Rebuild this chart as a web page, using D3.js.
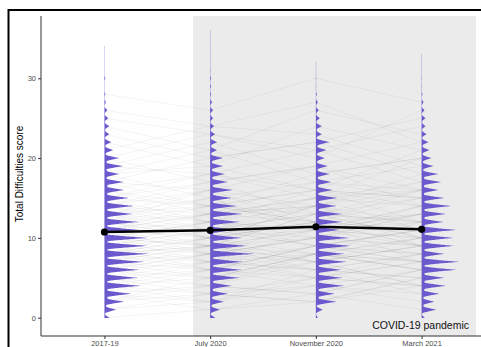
<!DOCTYPE html>
<html lang="en">
	<head>
		<meta charset="utf-8">
		<title>SDQ total difficulties</title>
		<script type="text/javascript" src="https://d3js.org/d3.v7.min.js"></script>
		<style>
			body { margin:0; background:#fff; }
			svg text { font-family:"Liberation Sans", Arial, sans-serif; }
		</style>
	</head>
	<body>
		<svg id="chart"></svg>
		<script>

			// time points and labels
			var timepoints = ["2017-19","July 2020","November 2020","March 2021"];
			var yTicks = [0,10,20,30];

			// mean Total Difficulties score at each wave
			var meanScores = [10.74,10.95,11.4,11.08];

			// number of children at each score (index = score), per wave
			var dist1719 = [5,12,20,27,37,34,35,40,45,44,44,35,35,29,30,25,20,20,15,19,15,9,7,5,5,4,3,1.5,1,0.3,1,0.3,0.3,0.3,0.3];
			var distJul20 = [5,10,14,18,22,30,32,33,45,38,32,27,30,33,27,22,23,18,15,13,13,7,7,5,4,3,3,2,1,1,1,0.5,0.3,0.3,0.3,0.3,0.3];
			var distNov20 = [2,7,21,19,29,27,26,31,29,36,34,24,27,27,21,22,17,16,14,12,9,11,14,6,6,4,3,2,1,0.5,0.5,0.3,0.3];
			var distMar21 = [3,15,13,18,25,23,35,38,23,33,32,35,22,25,30,23,17,20,17,12,10,8,7,5,4,4,3,2,1,0.5,0.5,0.3,0.3,0.3];
			var dists = [dist1719,distJul20,distNov20,distMar21];

			// individual trajectories (score at each wave)
			var trajectories = [
				[4,6,5,7],[12,10,14,11],[8,9,7,10],[15,18,16,14],[2,3,5,4],[10,12,11,13],[20,17,19,22],[6,5,8,6],
				[11,13,12,9],[9,8,10,12],[14,11,15,17],[3,6,4,2],[17,20,22,18],[7,9,6,8],[13,12,16,15],[5,4,3,6],
				[10,7,9,11],[22,19,24,21],[12,14,13,10],[8,11,9,7],[1,2,4,3],[16,13,14,16],[9,12,11,14],[6,8,10,9],
				[18,15,17,19],[11,9,13,12],[4,7,6,5],[25,23,20,26],[13,16,14,12],[7,5,8,10],[10,11,9,8],[19,22,18,20],
				[2,5,7,4],[14,13,17,15],[8,6,9,11],[12,15,10,13],[5,7,6,8],[16,18,21,17],[9,10,12,9],[11,8,10,14],
				[3,2,5,7],[21,24,23,19],[7,10,8,6],[15,14,12,16],[10,13,15,11],[6,4,7,9],[13,11,14,18],[28,26,30,27],
				[8,7,11,10],[12,9,8,12],[0,1,3,1],[17,16,19,14],[9,11,10,13],[4,3,2,5],[11,14,16,12],[24,21,26,23],
				[6,9,7,4],[14,17,13,15],[10,8,12,7],[7,6,9,8],[19,18,15,20],[3,4,8,6],[12,11,13,16],[8,10,14,9],
				[5,8,7,9],[13,10,12,11],[9,6,8,7],[16,14,18,20],[2,4,3,6],[11,12,10,9],[18,21,17,16],[7,8,6,5],
				[12,13,15,14],[10,9,11,12],[14,16,12,13],[4,5,8,7],[15,12,14,17],[6,7,5,8],[13,15,11,10],[3,1,2,4],
				[9,11,13,10],[20,23,21,24],[11,10,12,15],[8,9,10,8],[1,3,2,5],[17,14,16,15],[10,12,9,11],[5,6,9,7],
				[23,20,22,25],[12,10,11,13],[6,8,5,4],[26,24,27,22],[14,12,15,16],[7,9,11,9],[9,7,8,10],[18,19,16,21],
				[4,2,6,3],[13,14,12,11],[8,10,7,9],[11,13,14,10],[5,3,4,6],[15,17,19,16],[10,9,13,12],[12,16,11,14]
			];

			var width = 481;
			var height = 347;
			var panel = {left:41, right:485, top:16, bottom:336};

			var svg = d3.select("#chart")
				.attr("width",width)
				.attr("height",height);

			var xScale = d3.scalePoint()
				.domain(timepoints)
				.range([panel.left,panel.right])
				.padding(0.6);

			var yScale = d3.scaleLinear()
				.domain([0,30])
				.range([317.7,78.3]);

			var wScale = d3.scaleLinear()
				.domain([0,45])
				.range([0,45]);

			// pandemic shading
			svg.append("rect")
				.attr("x",193)
				.attr("y",panel.top)
				.attr("width",283)
				.attr("height",panel.bottom-panel.top)
				.attr("fill","#ebebeb");

			svg.append("text")
				.attr("x",469)
				.attr("y",329)
				.attr("text-anchor","end")
				.attr("font-size","10.5px")
				.attr("fill","#111")
				.text("COVID-19 pandemic");

			// spaghetti lines
			var line = d3.line()
				.x((d,i)=>xScale(timepoints[i]))
				.y(d=>yScale(d));

			svg.append("g")
				.selectAll("path")
				.data(trajectories)
				.enter()
				.append("path")
				.attr("d",line)
				.attr("fill","none")
				.attr("stroke","#000")
				.attr("stroke-opacity",0.08)
				.attr("stroke-width",0.6);

			// half violins, spiky because scores are whole numbers
			function density(dist){
				var pts = [];
				var top = dist.length-1;
				for(var s=-0.05;s<=top+0.05;s+=0.02){
					var k = Math.round(s);
					var c = dist[Math.max(0,Math.min(top,k))];
					var d = Math.abs(s-k)/0.5;
					var v = c*Math.pow(Math.max(0,1-d),1.4);
					// thin solid column where there is data
					var lo = dist[Math.max(0,Math.floor(s))];
					var hi = dist[Math.min(top,Math.ceil(s))];
					var base = Math.min(3,Math.min(lo,hi)*0.15);
					pts.push([s,Math.max(v,base,0.25)]);
				}
				return pts;
			}

			var area = d3.area()
				.y(d=>yScale(d[0]))
				.x0(0)
				.x1(d=>wScale(d[1]));

			svg.append("g")
				.selectAll("path")
				.data(dists)
				.enter()
				.append("path")
				.attr("transform",(d,i)=>"translate("+xScale(timepoints[i])+",0)")
				.attr("d",d=>area(density(d)))
				.attr("fill","slateblue");

			// means
			var meanLine = d3.line()
				.x((d,i)=>xScale(timepoints[i]))
				.y(d=>yScale(d));

			svg.append("path")
				.datum(meanScores)
				.attr("d",meanLine)
				.attr("fill","none")
				.attr("stroke","#000")
				.attr("stroke-width",2.5);

			svg.append("g")
				.selectAll("circle")
				.data(meanScores)
				.enter()
				.append("circle")
				.attr("cx",(d,i)=>xScale(timepoints[i]))
				.attr("cy",d=>yScale(d))
				.attr("r",3.6)
				.attr("fill","#000");

			// axes
			var yAxis = d3.axisLeft(yScale)
				.tickValues(yTicks)
				.tickSize(3)
				.tickPadding(2);

			var xAxis = d3.axisBottom(xScale)
				.tickSize(3)
				.tickPadding(2);

			var gy = svg.append("g")
				.attr("transform","translate("+panel.left+",0)")
				.call(yAxis);
			gy.select(".domain").remove();
			gy.append("line")
				.attr("y1",panel.top)
				.attr("y2",panel.bottom)
				.attr("stroke","#333");

			var gx = svg.append("g")
				.attr("transform","translate(0,"+panel.bottom+")")
				.call(xAxis);
			gx.select(".domain").remove();
			gx.append("line")
				.attr("x1",panel.left)
				.attr("x2",width)
				.attr("stroke","#333");

			svg.selectAll(".tick line").attr("stroke","#333");
			svg.selectAll(".tick text")
				.attr("fill","#4d4d4d")
				.attr("font-size","7.5px")
				.attr("font-family","Liberation Sans, Arial, sans-serif");

			svg.append("text")
				.attr("transform","translate(22.5,174) rotate(-90)")
				.attr("text-anchor","middle")
				.attr("font-size","10px")
				.attr("fill","#000")
				.text("Total Difficulties score");

			// figure frame
			svg.append("rect")
				.attr("x",8.5)
				.attr("y",10)
				.attr("width",500)
				.attr("height",400)
				.attr("fill","none")
				.attr("stroke","#000")
				.attr("stroke-width",2);
		</script>
	</body>
</html>
